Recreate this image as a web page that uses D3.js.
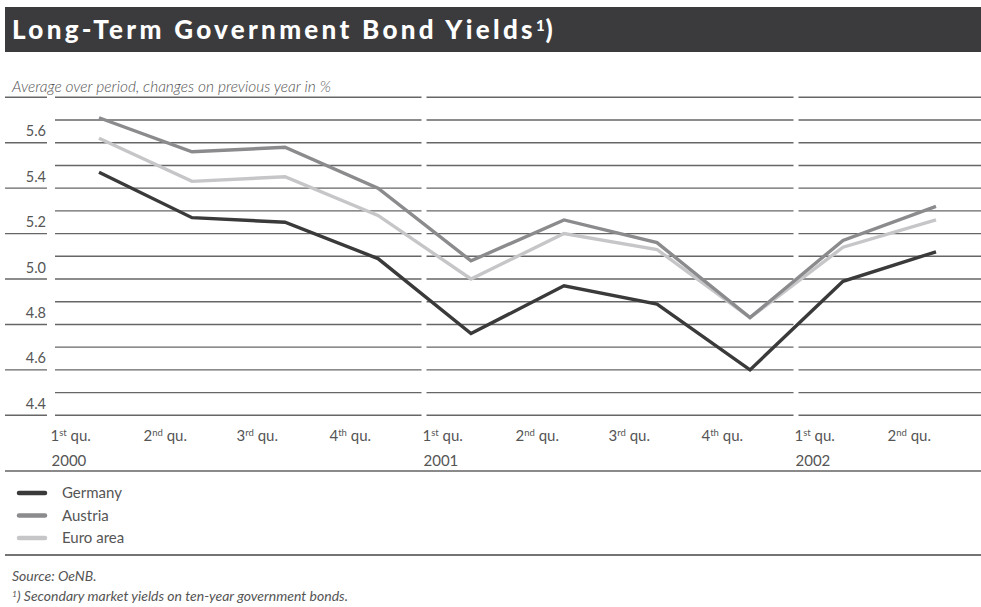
<!DOCTYPE html>
<html>
<head>
<meta charset="utf-8">
<script src="https://cdn.jsdelivr.net/npm/d3@7"></script>
<style>
  html, body { margin: 0; padding: 0; background: #fff; }
  svg { display: block; font-family: Lato, "Open Sans", sans-serif; }
</style>
</head>
<body>
<svg id="chart" width="981" height="607"></svg>
<script>
// Quarterly periods, Q1 2000 to Q2 2002
const quarters = ["1", "2", "3", "4", "1", "2", "3", "4", "1", "2"];
const ordinals = ["st", "nd", "rd", "th", "st", "nd", "rd", "th", "st", "nd"];
const years = ["2000", "", "", "", "2001", "", "", "", "2002", ""];
const periods = quarters.map((q, i) => i + ":" + q);

// Long-term government bond yields, %
const germany  = [5.47, 5.27, 5.25, 5.09, 4.76, 4.97, 4.89, 4.60, 4.99, 5.12];
const austria  = [5.71, 5.56, 5.58, 5.40, 5.08, 5.26, 5.16, 4.83, 5.17, 5.32];
const euroArea = [5.62, 5.43, 5.45, 5.28, 5.00, 5.20, 5.13, 4.83, 5.14, 5.26];

const yTicks = [5.6, 5.4, 5.2, 5.0, 4.8, 4.6, 4.4];

const series = [
  { name: "Germany",   values: germany,  color: "#3a3a3b" },
  { name: "Austria",   values: austria,  color: "#8b8b8d" },
  { name: "Euro area", values: euroArea, color: "#c6c6c9" }
];

const W = 981, H = 607;
const svg = d3.select("#chart");

const x = d3.scaleBand().domain(periods).range([52.5, 982.5]).padding(0);
const y = d3.scaleLinear().domain([4.4, 5.8]).range([415.3, 97.3]);

// Title bar
svg.append("rect").attr("x", 5).attr("y", 7).attr("width", W - 5).attr("height", 45)
  .attr("fill", "#3b3b3d");
const title = svg.append("text").attr("x", 12).attr("y", 39)
  .attr("fill", "#fff").attr("font-size", 26).attr("font-weight", 900)
  .attr("letter-spacing", 3.3);
title.append("tspan").text("Long-Term Government Bond Yields");
title.append("tspan").attr("font-size", 15).attr("dy", -8).attr("letter-spacing", 1).text("1");
title.append("tspan").attr("dy", 8).text(")");

// Subtitle
svg.append("text").attr("x", 12).attr("y", 92)
  .attr("font-size", 15.5).attr("font-style", "italic").attr("font-weight", 300)
  .attr("fill", "#555").text("Average over period, changes on previous year in %");

// Horizontal grid, broken into one block per year
const gridValues = d3.range(0, 15).map(i => +(4.4 + i * 0.1).toFixed(1));
const blocks = [
  [x(periods[0]) + 2.5, x(periods[4]) - 3],
  [x(periods[4]) + 2, x(periods[8]) - 3],
  [x(periods[8]) + 2, W]
];
const grid = svg.append("g").attr("stroke", "#666").attr("stroke-width", 1.4);
gridValues.forEach((v, i) => {
  const yy = y(v);
  if (i % 2 === 0) {
    grid.append("line").attr("x1", 5).attr("x2", 47).attr("y1", yy).attr("y2", yy);
  }
  blocks.forEach(b => {
    grid.append("line").attr("x1", b[0]).attr("x2", b[1]).attr("y1", yy).attr("y2", yy);
  });
});

// Y tick labels, sitting above their line
const yAxis = d3.axisLeft(y).tickValues(yTicks).tickFormat(d3.format(".1f")).tickSize(0);
const yg = svg.append("g").attr("transform", "translate(46,0)").call(yAxis);
yg.select(".domain").remove();
yg.selectAll("text").attr("font-family", "Lato, 'Open Sans', sans-serif")
  .attr("font-size", 14.5).attr("fill", "#555").attr("dy", -7).attr("x", 0);

// X labels: quarter and year
const xl = svg.append("g");
periods.forEach((p, i) => {
  const x0 = x(p) - 2;
  const t = xl.append("text").attr("x", x0).attr("y", 441)
    .attr("font-size", 15).attr("fill", "#555");
  t.append("tspan").text(quarters[i]);
  t.append("tspan").attr("font-size", 9.5).attr("dy", -5).text(ordinals[i]);
  t.append("tspan").attr("dy", 5).text(" qu.");
  if (years[i]) {
    xl.append("text").attr("x", x0 + 1).attr("y", 466)
      .attr("font-size", 15).attr("fill", "#555").text(years[i]);
  }
});

// Lines
const line = d3.line().x((d, i) => x(periods[i]) + x.bandwidth() / 2).y(d => y(d));
series.slice().reverse().forEach(s => {
  svg.append("path").datum(s.values).attr("d", line)
    .attr("fill", "none").attr("stroke", s.color).attr("stroke-width", 3.4)
    .attr("stroke-linejoin", "miter");
});

// Separator under axis labels
svg.append("line").attr("x1", 5).attr("x2", W).attr("y1", 471).attr("y2", 471)
  .attr("stroke", "#8a8a8a").attr("stroke-width", 2);

// Legend
series.forEach((s, i) => {
  const ly = 493 + i * 22.5;
  svg.append("line").attr("x1", 19).attr("x2", 45).attr("y1", ly).attr("y2", ly)
    .attr("stroke", s.color).attr("stroke-width", 4.5).attr("stroke-linecap", "round");
  svg.append("text").attr("x", 62).attr("y", ly + 5)
    .attr("font-size", 15).attr("fill", "#555").text(s.name);
});

// Bottom rule and notes
svg.append("line").attr("x1", 5).attr("x2", W).attr("y1", 555).attr("y2", 555)
  .attr("stroke", "#444").attr("stroke-width", 1.4);
svg.append("text").attr("x", 12).attr("y", 581)
  .attr("font-size", 14).attr("font-style", "italic").attr("fill", "#555").text("Source: OeNB.");
const fn = svg.append("text").attr("x", 12).attr("y", 601)
  .attr("font-size", 14).attr("font-style", "italic").attr("fill", "#555");
fn.append("tspan").attr("font-size", 8.5).attr("dy", -4).text("1");
fn.append("tspan").attr("dy", 4).text(") Secondary market yields on ten-year government bonds.");
</script>
</body>
</html>
